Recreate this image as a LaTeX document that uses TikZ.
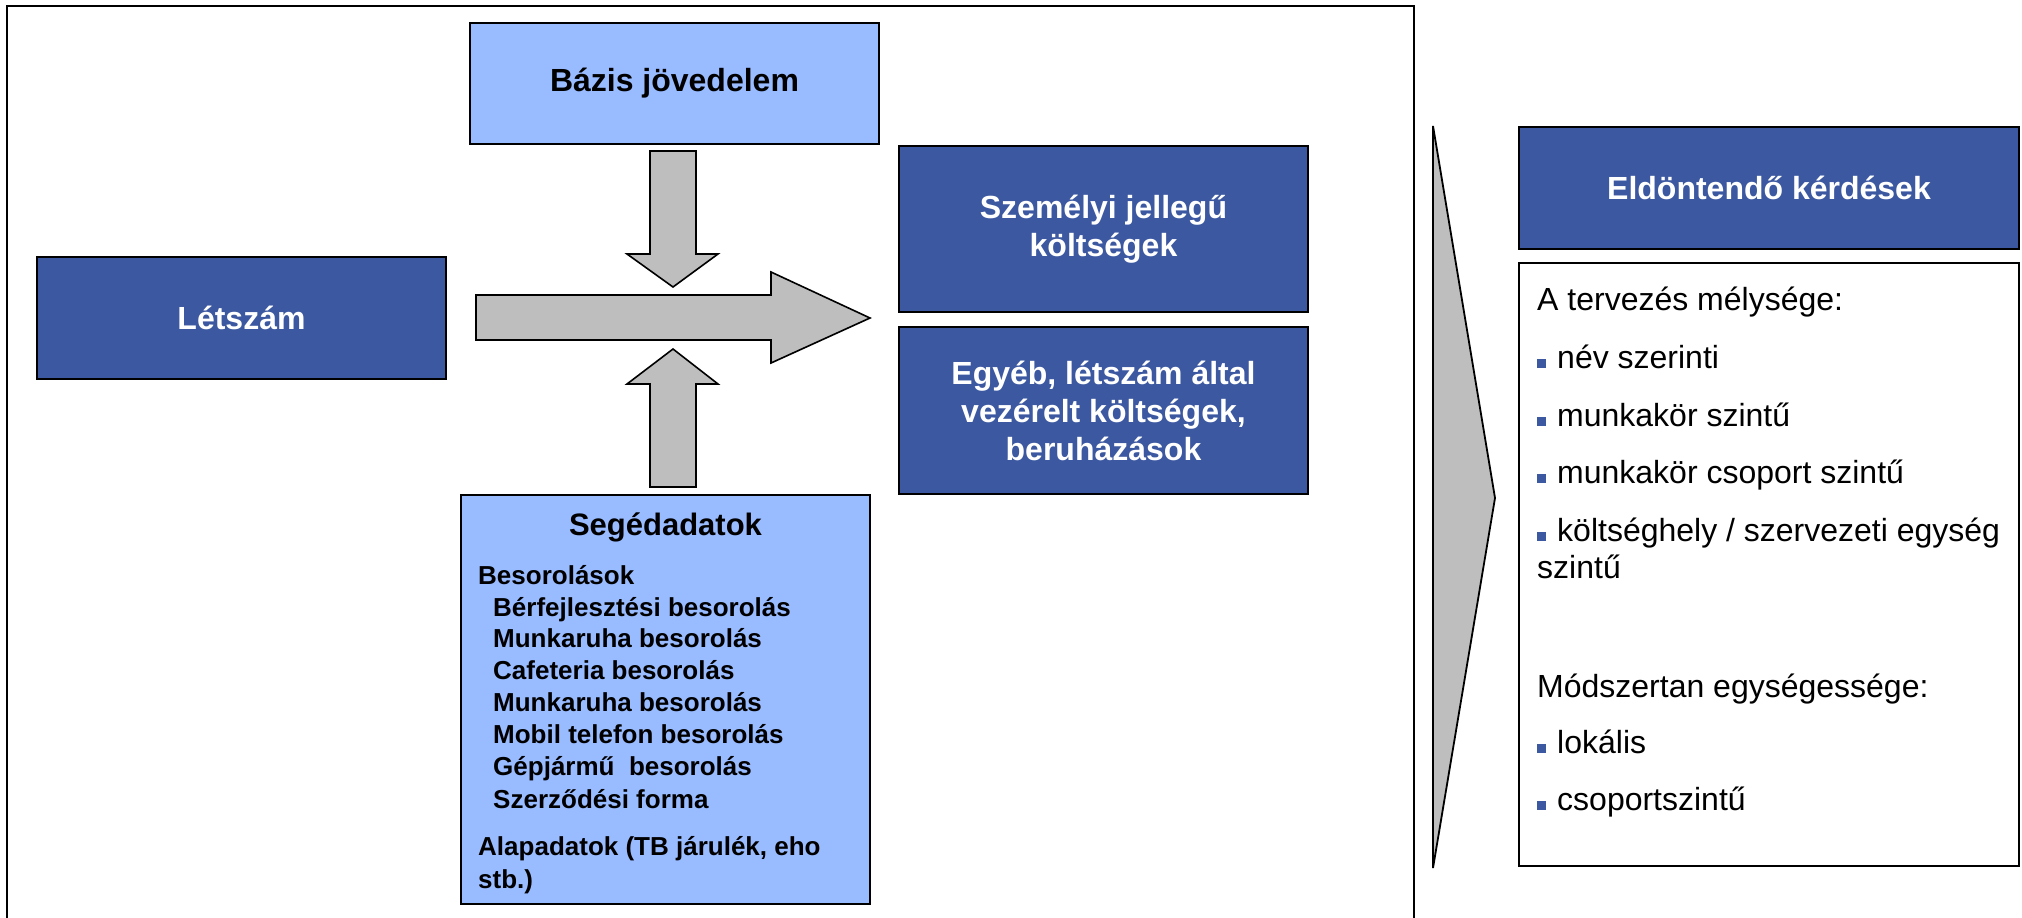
\documentclass[tikz,border=0pt]{standalone}
\usepackage{fontspec}
\setmainfont{Liberation Sans}
\definecolor{navy}{RGB}{60,88,160}
\definecolor{sky}{RGB}{153,187,255}
\definecolor{arrowgray}{RGB}{190,190,190}

\begin{document}
\begin{tikzpicture}[x=1pt,y=-1pt,
  boxbase/.style={draw=black, line width=2pt, inner sep=0pt, outer sep=0pt, align=center},
  darkbox/.style={boxbase, fill=navy, text=white, font=\bfseries\fontsize{32}{38}\selectfont},
  lightbox/.style={boxbase, fill=sky, font=\bfseries\fontsize{32}{38}\selectfont},
  plainbox/.style={boxbase, fill=white},
  blockarrow/.style={draw=black, line width=1.6pt, fill=arrowgray, line join=miter},
  segtxt/.style={anchor=base west, inner sep=0pt, font=\bfseries\fontsize{26}{32}\selectfont},
  qtxt/.style={anchor=base west, inner sep=0pt, font=\fontsize{32}{37}\selectfont}
]
\useasboundingbox (0,0) rectangle (2022,918);

% outer frame around the left part (open at the bottom)
\draw[line width=1.6pt] (7,925) -- (7,6) -- (1414,6) -- (1414,925);

% boxes
\node[darkbox, minimum width=409pt, minimum height=122pt] (letszam) at (241.5,318) {Létszám};
\node[lightbox, minimum width=409pt, minimum height=121pt] (bazis) at (674.5,83.5) {Bázis jövedelem};
\node[darkbox, minimum width=409pt, minimum height=166pt] (szemelyi) at (1103.5,229) {Személyi jellegű\\költségek};
\node[darkbox, minimum width=409pt, minimum height=167pt] (egyeb) at (1103.5,410.5) {Egyéb, létszám által\\vezérelt költségek,\\beruházások};
\node[lightbox, minimum width=409pt, minimum height=409pt] (seged) at (665.5,699.5) {};
\node[darkbox, minimum width=500pt, minimum height=122pt] (eldont) at (1769,188) {Eldöntendő kérdések};
\node[plainbox, minimum width=500pt, minimum height=603pt] (kerdes) at (1769,564.5) {};

% block arrows
\draw[blockarrow] (476,295) -- (771,295) -- (771,272) -- (870,318) -- (771,363) -- (771,340) -- (476,340) -- cycle;
\draw[blockarrow] (650,151) -- (696,151) -- (696,254) -- (718,254) -- (673,287) -- (627,254) -- (650,254) -- cycle;
\draw[blockarrow] (673,349) -- (718,384) -- (696,384) -- (696,487) -- (650,487) -- (650,384) -- (627,384) -- cycle;

% chevron pointing to the questions
\draw[blockarrow, line width=1.8pt] (1433,126) -- (1495,498) -- (1433,868) -- cycle;

% contents of the auxiliary data box
\node[anchor=base, inner sep=0pt, font=\bfseries\fontsize{31}{37}\selectfont] (segtitle) at (665.5,535) {Segédadatok};
\node[segtxt] (besor) at (478,584) {Besorolások};
\foreach \t/\yy [count=\i] in {Bérfejlesztési besorolás/616, Munkaruha besorolás/647, Cafeteria besorolás/679, Munkaruha besorolás/711, Mobil telefon besorolás/743, Gépjármű~ besorolás/775, Szerződési forma/808}
  \node[segtxt] (sub\i) at (493,\yy) {\t};
\node[segtxt] (alap1) at (478,855) {Alapadatok (TB járulék, eho};
\node[segtxt] (alap2) at (478,888) {stb.)};

% questions to decide
\newcommand{\sqbul}{\textcolor{navy}{\rule{9pt}{9pt}}\hspace{11pt}}
\node[qtxt] (q1) at (1537,310) {A tervezés mélysége:};
\foreach \t/\yy [count=\i] in {{név szerinti}/368, {munkakör szintű}/426, {munkakör csoport szintű}/483, {költséghely / szervezeti egység}/541}
  \node[qtxt] (qa\i) at (1537,\yy) {\sqbul\t};
\node[qtxt] (qa5) at (1537,578) {szintű};
\node[qtxt] (q2) at (1537,697) {Módszertan egységessége:};
\node[qtxt] (qb1) at (1537,753) {\sqbul lokális};
\node[qtxt] (qb2) at (1537,810) {\sqbul csoportszintű};
\end{tikzpicture}
\end{document}
